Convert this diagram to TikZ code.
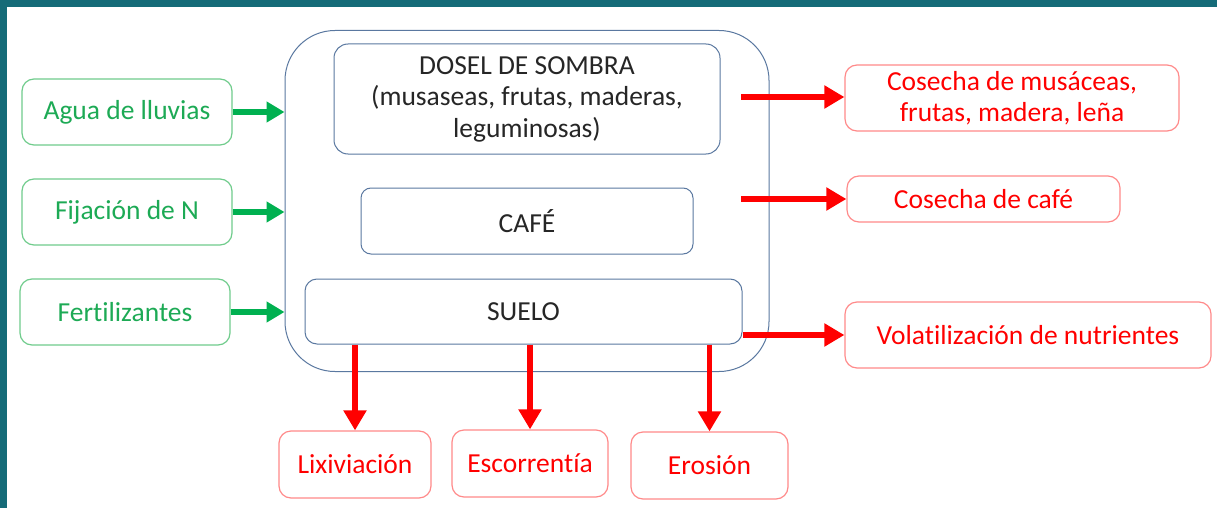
\documentclass[tikz,border=0pt]{standalone}
\usepackage{fontspec}
\setmainfont[Ligatures={NoCommon}]{Carlito}
\usetikzlibrary{arrows.meta}
\definecolor{frame}{HTML}{156B78}
\definecolor{boxblue}{HTML}{5A78A0}
\definecolor{gtext}{HTML}{1DAA55}
\definecolor{gborder}{HTML}{70CC8C}
\definecolor{garrow}{HTML}{00B050}
\definecolor{rtext}{HTML}{FF0000}
\definecolor{rborder}{HTML}{FF8A8A}
\definecolor{rarrow}{HTML}{FF0000}
\tikzset{
  base/.style={rectangle, inner sep=0pt, align=center, font=\fontsize{27.5}{31.5}\selectfont},
  inner/.style={base, draw=boxblue, line width=1pt, rounded corners=14pt, text=black!85},
  gbox/.style={base, draw=gborder, line width=1.2pt, rounded corners=12pt, text=gtext, minimum width=210pt, minimum height=66pt},
  rbox/.style={base, draw=rborder, line width=1.2pt, rounded corners=12pt, text=rtext},
  garr/.style={draw=garrow, line width=5.5pt, -{Triangle[length=18pt,width=20pt]}},
  rarr/.style={draw=rarrow, line width=5.5pt, -{Triangle[length=20pt,width=22pt]}},
}
\begin{document}
\begin{tikzpicture}[x=1pt,y=-1pt]
\useasboundingbox (0,0) rectangle (1217,508);
\fill[white] (0,0) rectangle (1217,508);
\fill[frame] (0,0) rectangle (1217,7);
\fill[frame] (0,0) rectangle (7,508);

\node[base, draw=boxblue, line width=1pt, rounded corners=50pt, minimum width=484pt, minimum height=341pt] (outer) at (527,201) {};
\node[inner, minimum width=386pt, minimum height=110pt] (dosel) at (527,99) {DOSEL DE SOMBRA\\(musaseas, frutas, maderas,\\leguminosas)};
\node[inner, rounded corners=10pt, minimum width=332pt, minimum height=66pt] (cafe) at (527,221) {CAFÉ};
\node[inner, rounded corners=12pt, minimum width=437pt, minimum height=65pt] (suelo) at (523.5,311.5) {SUELO};

\node[gbox] (agua) at (127,112) {Agua de lluvias};
\node[gbox] (fija) at (127,212) {Fijación de N};
\node[gbox] (fert) at (125,312) {Fertilizantes};

\node[rbox, minimum width=334pt, minimum height=66pt] (cmus) at (1012,98) {Cosecha de musáceas,\\frutas, madera, leña};
\node[rbox, minimum width=273pt, minimum height=46pt] (ccafe) at (983.5,199) {Cosecha de café};
\node[rbox, minimum width=366pt, minimum height=66pt] (vola) at (1028,335) {Volatilización de nutrientes};

\node[rbox, minimum width=152pt, minimum height=67pt] (lix) at (355,464.5) {Lixiviación};
\node[rbox, minimum width=156pt, minimum height=67pt] (esc) at (530,463.5) {Escorrentía};
\node[rbox, minimum width=157pt, minimum height=67pt] (ero) at (709.5,465.5) {Erosión};

\coordinate (r1) at (741,97);
\coordinate (r2) at (741,199);

\draw[garr] (agua.east) -- (agua.east -| outer.west);
\draw[garr] (fija.east) -- (fija.east -| outer.west);
\draw[garr] (fert.east) -- (fert.east -| outer.west);

\draw[rarr] (r1) -- (r1 -| cmus.west);
\draw[rarr] (r2) -- (r2 -| ccafe.west);
\draw[rarr] (suelo.east |- vola.west) -- (vola.west);

\draw[rarr] (lix.north |- suelo.south) -- (lix.north);
\draw[rarr] (esc.north |- suelo.south) -- (esc.north);
\draw[rarr] (ero.north |- suelo.south) -- (ero.north);
\end{tikzpicture}
\end{document}
